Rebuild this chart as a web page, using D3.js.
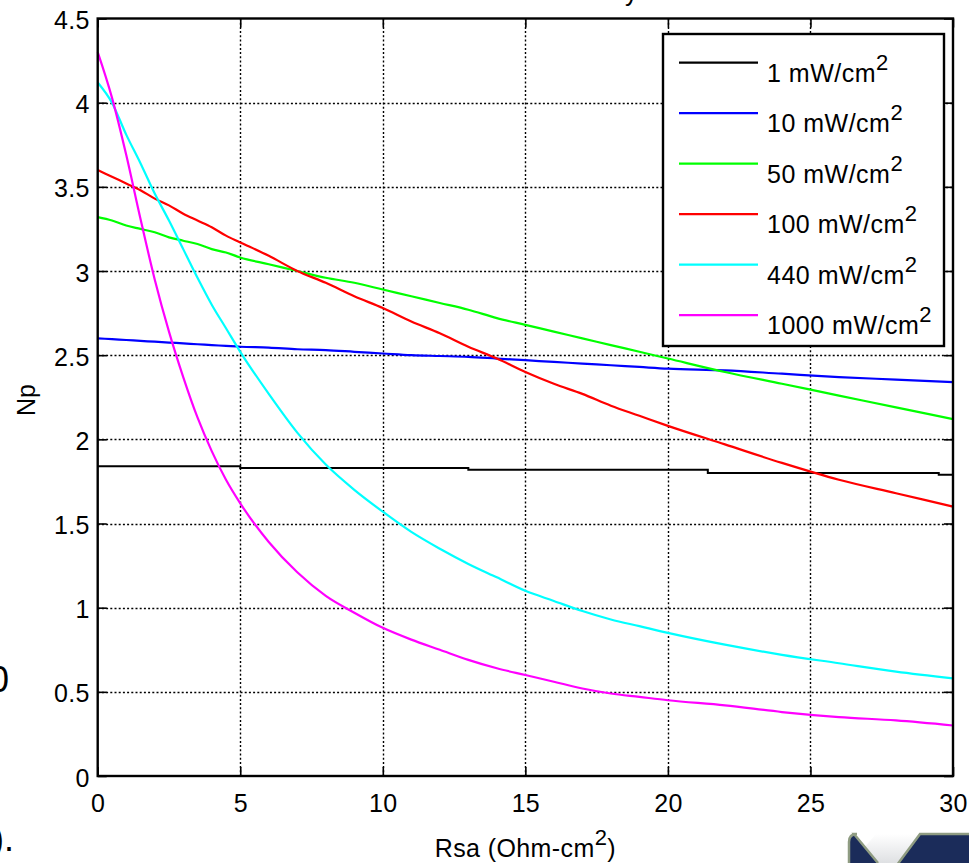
<!DOCTYPE html>
<html>
<head>
<meta charset="utf-8">
<script src="https://cdn.jsdelivr.net/npm/d3@7"></script>
<style>
  html, body { margin: 0; padding: 0; background: #fff; }
  svg { display: block; }
  text { font-family: "Liberation Sans", Arial, sans-serif; fill: #000; }
</style>
</head>
<body>
<svg id="chart" width="969" height="863"></svg>
<script>
// ---------------- data ----------------
const rsa = [0, 0.5, 1, 1.5, 2, 2.5, 3, 3.5, 4, 4.5, 5, 6, 7, 8, 9, 10, 11, 12, 13, 14, 15, 16, 17, 18, 19, 20, 22, 24, 26, 28, 30];

const np10   = [2.60, 2.595, 2.59, 2.585, 2.58, 2.575, 2.57, 2.565, 2.56, 2.555, 2.55, 2.545, 2.535, 2.53, 2.52, 2.51, 2.50, 2.495, 2.49, 2.48, 2.47, 2.46, 2.45, 2.44, 2.43, 2.42, 2.41, 2.39, 2.37, 2.355, 2.34];
const np50   = [3.32, 3.30, 3.27, 3.25, 3.23, 3.20, 3.18, 3.16, 3.13, 3.11, 3.08, 3.04, 3.00, 2.96, 2.93, 2.89, 2.85, 2.81, 2.77, 2.72, 2.68, 2.64, 2.60, 2.56, 2.52, 2.48, 2.40, 2.33, 2.26, 2.19, 2.12];
const np100  = [3.60, 3.56, 3.52, 3.48, 3.43, 3.39, 3.34, 3.30, 3.26, 3.21, 3.17, 3.09, 3.00, 2.93, 2.85, 2.78, 2.70, 2.63, 2.55, 2.48, 2.40, 2.33, 2.27, 2.20, 2.14, 2.08, 1.97, 1.86, 1.76, 1.68, 1.60];
const np440  = [4.12, 4.00, 3.81, 3.64, 3.46, 3.30, 3.13, 2.96, 2.80, 2.66, 2.52, 2.27, 2.04, 1.85, 1.70, 1.57, 1.45, 1.35, 1.26, 1.18, 1.10, 1.04, 0.98, 0.93, 0.89, 0.85, 0.78, 0.72, 0.67, 0.62, 0.58];
const np1000 = [4.30, 4.03, 3.69, 3.31, 2.95, 2.64, 2.37, 2.13, 1.93, 1.76, 1.62, 1.39, 1.21, 1.07, 0.97, 0.88, 0.81, 0.75, 0.69, 0.64, 0.60, 0.56, 0.52, 0.49, 0.47, 0.45, 0.42, 0.38, 0.35, 0.33, 0.30];

// 1 mW/cm2 curve is a staircase: values hold until the next step position
const rsa1 = [0, 5, 13, 21.4, 29.5, 30];
const np1  = [1.84, 1.83, 1.82, 1.80, 1.79, 1.79];

const seriesNames  = ["1 mW/cm", "10 mW/cm", "50 mW/cm", "100 mW/cm", "440 mW/cm", "1000 mW/cm"];
const seriesColors = ["#000000", "#0000ff", "#00ff00", "#ff0000", "#00ffff", "#ff00ff"];

const xTicks = [0, 5, 10, 15, 20, 25, 30];
const yTicks = [0, 0.5, 1, 1.5, 2, 2.5, 3, 3.5, 4, 4.5];
const xLabel = "Rsa (Ohm-cm";
const yLabel = "Np";

// ---------------- layout ----------------
const svg = d3.select("#chart");
const L = 97.7, R = 953, T = 18.5, B = 776;
const x = d3.scaleLinear().domain([0, 30]).range([L, R]);
const y = d3.scaleLinear().domain([0, 4.5]).range([B, T]);
const FS = 25;
const snap = v => Math.round(v) + 0.5;

// grid (dotted)
const grid = svg.append("g");
grid.selectAll("line.gx").data(xTicks.slice(1, -1)).join("line")
  .attr("x1", d => snap(x(d))).attr("x2", d => snap(x(d))).attr("y1", T).attr("y2", B)
  .attr("stroke", "#000").attr("stroke-width", 1.4).attr("stroke-dasharray", "2,2.2");
grid.selectAll("line.gy").data(yTicks.slice(1, -1)).join("line")
  .attr("x1", L).attr("x2", R).attr("y1", d => snap(y(d))).attr("y2", d => snap(y(d)))
  .attr("stroke", "#000").attr("stroke-width", 1.4).attr("stroke-dasharray", "2,2.2");

// axes with inward ticks
const tk = 9;
const axB = svg.append("g").attr("transform", `translate(0,${B})`)
  .call(d3.axisBottom(x).tickValues(xTicks).tickSize(-tk).tickPadding(18).tickFormat(d3.format("d")));
const axT = svg.append("g").attr("transform", `translate(0,${T})`)
  .call(d3.axisTop(x).tickValues(xTicks).tickSize(-tk).tickFormat(""));
const axL = svg.append("g").attr("transform", `translate(${L},0)`)
  .call(d3.axisLeft(y).tickValues(yTicks).tickSize(-tk).tickPadding(8).tickFormat(d => d3.format("")(d)));
const axR = svg.append("g").attr("transform", `translate(${R},0)`)
  .call(d3.axisRight(y).tickValues(yTicks).tickSize(-tk).tickFormat(""));
[axB, axT, axL, axR].forEach(a => {
  a.select(".domain").remove();
  a.selectAll(".tick line").attr("stroke", "#000").attr("stroke-width", 1.6);
  a.selectAll("text").attr("font-size", FS).attr("font-family", "Liberation Sans, Arial, sans-serif")
    .attr("fill", "#000").attr("letter-spacing", 0.3);
});
axB.selectAll("text").attr("dy", "0.71em");
axL.selectAll("text").attr("dy", "0.4em");

// data lines
const lineGen = d3.line().x(d => x(d[0])).y(d => y(d[1])).curve(d3.curveMonotoneX);
const stepGen = d3.line().x(d => x(d[0])).y(d => y(d[1])).curve(d3.curveStepAfter);
const plot = svg.append("g");
const allSeries = [np10, np50, np100, np440, np1000];
plot.append("path").datum(rsa1.map((v, i) => [v, np1[i]]))
  .attr("d", stepGen).attr("fill", "none").attr("stroke", seriesColors[0]).attr("stroke-width", 2);
allSeries.forEach((s, k) => {
  plot.append("path").datum(rsa.map((v, i) => [v, s[i]]))
    .attr("d", lineGen).attr("fill", "none").attr("stroke", seriesColors[k + 1])
    .attr("stroke-width", 2.2).attr("stroke-linejoin", "round");
});

// frame
svg.append("rect").attr("x", L).attr("y", T).attr("width", R - L).attr("height", B - T)
  .attr("fill", "none").attr("stroke", "#000").attr("stroke-width", 2.4);

// legend
const lg = svg.append("g");
lg.append("rect").attr("x", 663).attr("y", 34).attr("width", 281).attr("height", 312)
  .attr("fill", "#fff").attr("stroke", "#000").attr("stroke-width", 2.4);
seriesNames.forEach((n, i) => {
  const ly = 62.7 + i * 50.5;
  lg.append("line").attr("x1", 679).attr("x2", 758).attr("y1", ly).attr("y2", ly)
    .attr("stroke", seriesColors[i]).attr("stroke-width", 2.2);
  const t = lg.append("text").attr("x", 767).attr("y", ly + 19).attr("font-size", FS).attr("letter-spacing", 0.5);
  t.append("tspan").text(n);
  t.append("tspan").attr("dy", -12).attr("font-size", 22).text("2");
});

// axis labels
const xl = svg.append("text").attr("x", (L + R) / 2).attr("y", 856.5)
  .attr("text-anchor", "middle").attr("font-size", FS).attr("letter-spacing", 0.4);
xl.append("tspan").text(xLabel);
xl.append("tspan").attr("dy", -12).attr("font-size", 22).text("2");
xl.append("tspan").attr("dy", 12).text(")");

svg.append("text").attr("transform", "translate(35,400) rotate(-90)")
  .attr("text-anchor", "middle").attr("font-size", FS).text(yLabel);

// cropped fragments from surrounding page
svg.append("text").attr("x", 625).attr("y", 1).attr("font-size", FS).text("y");
svg.append("text").attr("x", 9).attr("y", 692).attr("text-anchor", "end").attr("font-size", 36).text("0");
svg.append("text").attr("x", 14).attr("y", 851).attr("text-anchor", "end").attr("font-size", 36).text(").");

// logo fragment (bottom right)
const logo = svg.append("g");
const defs = svg.append("defs");
const gr = defs.append("linearGradient").attr("id", "vnotch").attr("x1", 0).attr("x2", 0).attr("y1", 0).attr("y2", 1);
gr.append("stop").attr("offset", "0%").attr("stop-color", "#ffffff");
gr.append("stop").attr("offset", "100%").attr("stop-color", "#c9ccd0");
logo.append("path").attr("d", "M851,863 L876,834 L923,834 L898,863 Z").attr("fill", "url(#vnotch)").attr("opacity", 0.6);
logo.append("path").attr("d", "M849,863 L849,842 Q849,834 857,834 L854,834 L878,863 Z")
  .attr("fill", "#1b2c5a");
logo.append("path").attr("d", "M849,863 L849,842 Q849,834 857,834 L854,834 L878,863")
  .attr("fill", "#1b2c5a").attr("stroke", "#8f9c82").attr("stroke-width", 2.5);
logo.append("path").attr("d", "M971,834 L920,834 L897,865 L971,865 Z")
  .attr("fill", "#1b2c5a").attr("stroke", "#8f9c82").attr("stroke-width", 2.5);
</script>
</body>
</html>
